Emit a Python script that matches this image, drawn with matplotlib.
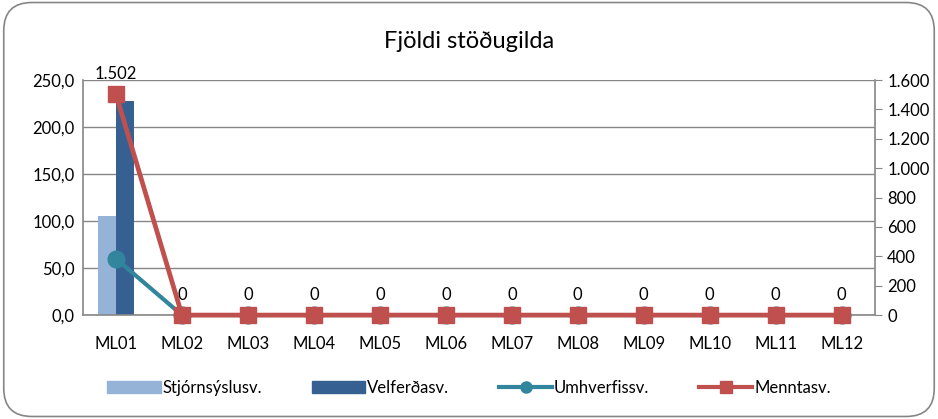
import matplotlib
matplotlib.use("Agg")
import matplotlib.pyplot as plt
import numpy as np
from matplotlib.patches import FancyBboxPatch
from matplotlib.lines import Line2D
from matplotlib.patches import Patch

plt.rcParams['font.family'] = ['Lato', 'DejaVu Sans']

categories = ['ML01', 'ML02', 'ML03', 'ML04', 'ML05', 'ML06', 'ML07', 'ML08', 'ML09', 'ML10', 'ML11', 'ML12']
stjornsysla = [105, 0, 0, 0, 0, 0, 0, 0, 0, 0, 0, 0]
velferd = [228, 0, 0, 0, 0, 0, 0, 0, 0, 0, 0, 0]
umhverfi = [60, 0, 0, 0, 0, 0, 0, 0, 0, 0, 0, 0]
mennta = [1502, 0, 0, 0, 0, 0, 0, 0, 0, 0, 0, 0]
left_ticks = [0, 50, 100, 150, 200, 250]
right_ticks = [0, 200, 400, 600, 800, 1000, 1200, 1400, 1600]

c_light = '#95B3D7'
c_dark = '#376092'
c_teal = '#31859C'
c_red = '#C0504D'
grid_c = '#868686'

fig = plt.figure(figsize=(9.38, 4.19), dpi=100)
border = FancyBboxPatch((0.004, 0.006), 0.992, 0.988, boxstyle="round,pad=0,rounding_size=0.03",
                        transform=fig.transFigure, facecolor='white', edgecolor='#868686', linewidth=1.2,
                        mutation_aspect=938/419, zorder=-10)
fig.patches.append(border)
ax = fig.add_axes([0.0885, 0.248, 0.844, 0.561])
ax.patch.set_alpha(0)
x = np.arange(len(categories))
w = 0.28
ax.bar(x - w/2, stjornsysla, width=w, color=c_light, zorder=2)
ax.bar(x + w/2, velferd, width=w, color=c_dark, zorder=2)
ax.plot(x, umhverfi, color=c_teal, lw=3, marker='o', ms=12, zorder=3, clip_on=False)
ax.set_xlim(-0.5, len(categories) - 0.5)
ax.set_ylim(0, 250)
ax.set_yticks(left_ticks)
ax.set_yticklabels([f"{v:.1f}".replace('.', ',') for v in left_ticks], fontsize=12)
ax.set_xticks(x)
ax.set_xticklabels(categories, fontsize=12)
ax.tick_params(axis='y', length=0, pad=6)
ax.tick_params(axis='x', length=0, pad=15)
ax.yaxis.grid(True, color=grid_c, lw=1)
ax.set_axisbelow(True)
for s in ['top', 'right']:
    ax.spines[s].set_visible(False)
for s in ['left', 'bottom']:
    ax.spines[s].set_color(grid_c)
    ax.spines[s].set_linewidth(1.2)

ax2 = ax.twinx()
ax2.plot(x, mennta, color=c_red, lw=3.4, marker='s', ms=12, zorder=4, clip_on=False)
ax2.set_ylim(0, 1600)
ax2.set_yticks(right_ticks)
ax2.set_yticklabels([f"{v:,}".replace(',', '.') for v in right_ticks], fontsize=12)
ax2.tick_params(axis='y', length=5, color=grid_c, pad=4)
for s in ['top', 'left', 'bottom']:
    ax2.spines[s].set_visible(False)
ax2.spines['right'].set_color(grid_c)
ax2.spines['right'].set_linewidth(1.2)
for xi, v in zip(x, mennta):
    lab = f"{v:,}".replace(',', '.')
    ax2.annotate(lab, (xi, v), xytext=(0, 9), textcoords='offset points', ha='center', va='bottom', fontsize=12)

fig.text(0.5, 0.9, 'Fjöldi stöðugilda', ha='center', va='center', fontsize=17)

handles = [Patch(color=c_light, label='Stjórnsýslusv.'),
           Patch(color=c_dark, label='Velferðasv.'),
           Line2D([], [], color=c_teal, lw=3, marker='o', ms=8, label='Umhverfissv.'),
           Line2D([], [], color=c_red, lw=3, marker='s', ms=8, label='Menntasv.')]
fig.legend(handles=handles, loc='center', bbox_to_anchor=(0.5, 0.075), ncol=4, frameon=False, fontsize=12,
           handlelength=3.2, handletextpad=0.1, columnspacing=3)

fig.savefig('out.png', dpi=100)
